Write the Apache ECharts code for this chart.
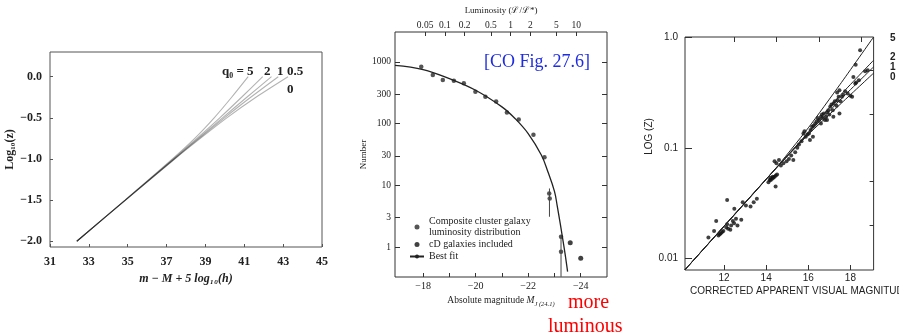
<!DOCTYPE html>
<html><head><meta charset="utf-8">
<script src="https://cdn.jsdelivr.net/npm/echarts@6/dist/echarts.min.js"></script>
<style>html,body{margin:0;padding:0;background:#fff}#c{width:899px;height:335px}</style>
</head><body><div id="c"></div>
<script>
// ===== Panel A: log10(z) vs m - M + 5 log10(h) =====
const aXTicks = [31, 33, 35, 37, 39, 41, 43, 45];
const aYTicks = [-2.0, -1.5, -1.0, -0.5, 0.0];
const aLogZ  = [-2.0, -1.5, -1.0, -0.75, -0.5, -0.25, 0.0];
const aQ5    = [32.38, 34.86, 37.30, 38.45, 39.45, 40.35, 41.2];
const aQ2    = [32.38, 34.87, 37.35, 38.56, 39.74, 40.86, 41.95];
const aQ1    = [32.38, 34.88, 37.38, 38.63, 39.88, 41.13, 42.4];
const aQ05   = [32.38, 34.88, 37.40, 38.68, 39.98, 41.33, 42.75];
const aQ0    = [32.38, 34.89, 37.42, 38.74, 40.10, 41.60, 43.25];

// ===== Panel B: cluster galaxy luminosity function =====
const bXTicks = [-18, -19, -20, -21, -22, -23, -24];
const bXLabels = [-18, -20, -22, -24];
const bYTicks = [1, 3, 10, 30, 100, 300, 1000];
const bLumLabels = ['0.05', '0.1', '0.2', '0.5', '1', '2', '5', '10'];
const bLumValues = [0.05, 0.1, 0.2, 0.5, 1, 2, 5, 10];
const bMStar = -21.33;
const bCompM = [-17.93, -18.37, -18.75, -19.17, -19.55, -19.99, -20.37, -20.78, -21.19, -21.64, -22.2, -22.62, -22.8, -22.82, -23.25, -23.25];
const bCompN = [840, 615, 510, 497, 452, 330, 274, 228, 151, 117, 66, 28.5, 7.4, 6.1, 1.47, 0.84];
const bCdM = [-23.6, -24.0];
const bCdN = [1.17, 0.66];
const bErrM = [-22.81, -23.25];
const bErrLo = [3.1, 0.33];
const bErrHi = [8.9, 1.47];
const bFitM = [-16.93, -18, -19, -20, -21, -21.5, -22, -22.5, -22.75, -23, -23.1, -23.25, -23.4, -23.5];
const bFitN = [880, 753, 537, 348, 187, 121, 69, 31, 16.6, 8, 4.8, 2.0, 0.8, 0.4];

// ===== Panel C: Hubble diagram, log z vs corrected apparent magnitude =====
const cXLabels = [12, 14, 16, 18];
const cTopTicks = [12.5, 14.5, 16.5, 18.5];
const cYMajor = [0.01, 0.1, 1];
const cYMinor = [0.02, 0.05, 0.2, 0.5];
const cLineM = [10.15, 14.3, 16, 17.5, 19.1];
const cLogQ5 = [-2.1, -1.22, -0.82, -0.43, 0.0];
const cLogQ2 = [-2.1, -1.22, -0.86, -0.53, -0.21];
const cLogQ1 = [-2.1, -1.22, -0.87, -0.57, -0.27];
const cLogQ0 = [-2.1, -1.22, -0.88, -0.61, -0.326];
const cPtM = [11.26,11.53,11.63,11.74,11.80,11.85,11.91,11.97,12.11,12.15,12.20,12.30,12.34,12.42,12.48,12.57,12.64,12.82,12.15,12.49,12.89,13.04,13.26,13.41,13.56,
  14.11,14.17,14.22,14.28,14.34,14.40,14.46,14.52,14.20,14.31,14.45,14.40,14.49,14.61,14.70,14.82,14.97,15.08,15.19,15.29,15.38,15.48,15.56,15.68,15.77,15.82,15.88,15.96,16.03,16.11,16.18,16.25,16.33,16.40,16.45,16.52,16.60,16.65,16.70,16.74,16.79,16.85,16.89,16.95,17.00,17.04,17.10,17.16,17.20,17.26,17.34,17.38,17.44,17.48,17.53,17.60,17.66,17.75,17.87,18.00,18.08,18.14,18.23,18.27,18.40,18.25,18.70,18.82,18.46,17.37,17.48,16.89,16.22,16.08,16.60,17.19];
const cPtLogZ = [-1.81,-1.75,-1.66,-1.79,-1.78,-1.77,-1.76,-1.75,-1.72,-1.69,-1.73,-1.74,-1.70,-1.66,-1.68,-1.64,-1.70,-1.65,-1.47,-1.55,-1.49,-1.52,-1.53,-1.49,-1.46,
  -1.31,-1.29,-1.29,-1.28,-1.27,-1.26,-1.25,-1.24,-1.27,-1.26,-1.35,-1.12,-1.14,-1.11,-1.16,-1.14,-1.12,-1.10,-1.07,-1.11,-1.04,-1.00,-0.97,-0.94,-0.87,-0.85,-0.90,-0.88,-0.87,-0.84,-0.81,-0.80,-0.78,-0.76,-0.73,-0.75,-0.72,-0.70,-0.73,-0.69,-0.75,-0.72,-0.68,-0.66,-0.70,-0.63,-0.61,-0.66,-0.60,-0.58,-0.62,-0.57,-0.54,-0.69,-0.58,-0.54,-0.52,-0.49,-0.51,-0.53,-0.54,-0.36,-0.42,-0.41,-0.39,-0.25,-0.31,-0.30,-0.12,-0.50,-0.48,-0.75,-0.90,-0.93,-0.78,-0.72];

const serif = "'Liberation Serif','DejaVu Serif',serif";
const sans = "'Liberation Sans','DejaVu Sans',sans-serif";
const ink = '#222';
const minus = v => String(v).replace('-', '\u2212');
const zip = (xs, ys, f) => xs.map((x, i) => [x, f ? f(ys[i]) : ys[i]]);
const zipYX = (ys, xs) => ys.map((y, i) => [xs[i], y]);
const pow10 = v => Math.pow(10, v);
const bTopM = bLumValues.map(L => bMStar - 2.5 * Math.log10(L));

const chart = echarts.init(document.getElementById('c'));
const hidden = {show: false};
const baseAxis = {axisLine: {show: false, onZero: false}, splitLine: hidden};

const aLine = (name, xs) => ({
  type: 'line', name, xAxisIndex: 0, yAxisIndex: 0, data: zipYX(aLogZ, xs),
  symbol: 'none', smooth: 0.3, silent: true,
  lineStyle: {color: 'rgba(0,0,0,0.3)', width: 1.1}
});
const cLine = (name, ys) => ({
  type: 'line', name, xAxisIndex: 3, yAxisIndex: 3, data: zip(cLineM, ys, pow10),
  symbol: 'none', smooth: 0.2, silent: true,
  lineStyle: {color: '#222', width: 1}
});

const option = {
  animation: false,
  backgroundColor: '#fff',
  textStyle: {fontFamily: serif, color: ink},
  grid: [
    {left: 50, top: 52, width: 272, height: 195, show: true, borderColor: '#555', borderWidth: 1},
    {left: 395, top: 32, width: 212, height: 245, show: true, borderColor: '#333', borderWidth: 1},
    {left: 685, top: 37, width: 203, height: 233, show: true, borderColor: '#333', borderWidth: 1}
  ],
  legend: {
    data: [
      {name: 'Composite cluster galaxy\nluminosity distribution'},
      {name: 'cD galaxies included'},
      {name: 'Best fit'}
    ],
    orient: 'vertical', left: 404, top: 211, itemWidth: 14, itemHeight: 5, itemGap: 1,
    textStyle: {fontFamily: serif, fontSize: 10, color: ink, lineHeight: 11}
  },
  xAxis: [
    Object.assign({}, baseAxis, {gridIndex: 0, type: 'value', min: 31, max: 45,
      axisTick: {show: true, inside: true, length: 3, customValues: aXTicks, lineStyle: {color: '#555'}},
      axisLabel: {customValues: aXTicks, fontSize: 12, color: ink, margin: 9, fontFamily: serif, fontWeight: 'bold'},
      name: 'm \u2212 M + 5 log\u2081\u2080(h)', nameLocation: 'middle', nameGap: 23,
      nameTextStyle: {fontSize: 12, fontFamily: serif, fontStyle: 'italic', fontWeight: 'bold', color: ink}}),
    Object.assign({}, baseAxis, {gridIndex: 1, type: 'value', min: -25, max: -16.93, inverse: true,
      axisTick: {show: true, inside: true, length: 4, customValues: bXTicks, lineStyle: {color: '#333'}},
      axisLabel: {customValues: bXLabels, fontSize: 10, color: ink, margin: 4, formatter: minus},
      name: '{a|Absolute magnitude }{i|M}{s|J (24.1)}', nameLocation: 'middle', nameGap: 13,
      nameTextStyle: {color: ink, rich: {
        a: {fontSize: 9.5, fontFamily: serif, color: ink, lineHeight: 14},
        i: {fontSize: 9.5, fontFamily: serif, fontStyle: 'italic', color: ink, lineHeight: 14},
        s: {fontSize: 6.5, fontFamily: serif, fontStyle: 'italic', color: ink, lineHeight: 14, verticalAlign: 'bottom'}
      }}}),
    Object.assign({}, baseAxis, {gridIndex: 1, type: 'value', position: 'top', min: -25, max: -16.93, inverse: true,
      axisTick: {show: true, inside: true, length: 4, customValues: bTopM, lineStyle: {color: '#333'}},
      axisLabel: {customValues: bTopM, fontSize: 9.5, color: ink, margin: 2,
        formatter: v => { let k = 0; bTopM.forEach((m, i) => { if (Math.abs(m - v) < Math.abs(bTopM[k] - v)) k = i; }); return bLumLabels[k]; }},
      name: 'Luminosity (\u2112/\u2112*)', nameLocation: 'middle', nameGap: 12,
      nameTextStyle: {fontSize: 9, color: ink}}),
    Object.assign({}, baseAxis, {gridIndex: 2, type: 'value', min: 10.15, max: 19.1,
      axisTick: {show: true, inside: true, length: 5, customValues: cXLabels, lineStyle: {color: '#333'}},
      axisLabel: {customValues: cXLabels, fontSize: 10, color: ink, margin: 3, fontFamily: sans},
      name: 'CORRECTED APPARENT VISUAL MAGNITUDE', nameLocation: 'start', nameGap: -5,
      nameTextStyle: {fontSize: 10, color: ink, fontFamily: sans, align: 'left', verticalAlign: 'top', padding: [16, 0, 0, 0]}}),
    Object.assign({}, baseAxis, {gridIndex: 2, type: 'value', position: 'top', min: 10.15, max: 19.1,
      axisTick: {show: true, inside: true, length: 5, customValues: cTopTicks, lineStyle: {color: '#333'}},
      axisLabel: hidden})
  ],
  yAxis: [
    Object.assign({}, baseAxis, {gridIndex: 0, type: 'value', min: -2.07, max: 0.30,
      axisTick: {show: true, inside: true, length: 3, customValues: aYTicks, lineStyle: {color: '#555'}},
      axisLabel: {customValues: aYTicks, fontSize: 12, color: ink, margin: 8, fontWeight: 'bold', formatter: v => minus(v.toFixed(1))},
      name: 'Log\u2081\u2080(z)', nameLocation: 'middle', nameGap: 31,
      nameTextStyle: {fontSize: 12, color: ink, fontWeight: 'bold'}}),
    Object.assign({}, baseAxis, {gridIndex: 1, type: 'log', min: 0.327, max: 3060,
      axisTick: {show: true, inside: true, length: 5, customValues: bYTicks, lineStyle: {color: '#333'}},
      axisLabel: {customValues: bYTicks, fontSize: 9.5, color: ink, margin: 4, formatter: v => String(v)},
      name: 'Number', nameLocation: 'middle', nameGap: 23,
      nameTextStyle: {fontSize: 9, color: ink}}),
    Object.assign({}, baseAxis, {gridIndex: 1, type: 'log', position: 'right', min: 0.327, max: 3060,
      axisTick: {show: true, inside: true, length: 5, customValues: bYTicks, lineStyle: {color: '#333'}},
      axisLabel: hidden}),
    Object.assign({}, baseAxis, {gridIndex: 2, type: 'log', min: 0.0079, max: 1.0,
      axisTick: {show: true, inside: true, length: 7, customValues: cYMajor, lineStyle: {color: '#333'}},
      axisLabel: {customValues: cYMajor, fontSize: 10, color: ink, margin: 7, fontFamily: sans,
        formatter: v => v >= 1 ? '1.0' : (v >= 0.1 ? '0.1' : '0.01')},
      name: 'LOG (Z)', nameLocation: 'middle', nameGap: 30,
      nameTextStyle: {fontSize: 10, color: ink, fontFamily: sans, padding: [0, 0, 0, 34]}}),
    Object.assign({}, baseAxis, {gridIndex: 2, type: 'log', min: 0.0079, max: 1.0,
      axisTick: {show: true, inside: true, length: 4, customValues: cYMinor, lineStyle: {color: '#333'}},
      axisLabel: hidden})
  ],
  series: [
    aLine('q0=5', aQ5), aLine('q0=2', aQ2), aLine('q0=1', aQ1), aLine('q0=0.5', aQ05), aLine('q0=0', aQ0),
    {type: 'line', name: 'Best fit', xAxisIndex: 1, yAxisIndex: 1, data: zip(bFitM, bFitN),
      symbol: 'none', smooth: 0.4, lineStyle: {color: '#222', width: 1.3}, itemStyle: {color: '#222'}},
    ...bErrM.map((m, i) => ({type: 'line', name: 'err' + i, xAxisIndex: 1, yAxisIndex: 1,
      data: [[m, bErrLo[i]], [m, bErrHi[i]]], symbol: 'none', silent: true,
      lineStyle: {color: '#444', width: 1}})),
    {type: 'scatter', name: 'Composite cluster galaxy\nluminosity distribution', xAxisIndex: 1, yAxisIndex: 1,
      data: zip(bCompM, bCompN), symbolSize: 4.5, itemStyle: {color: '#2a2a2a'}},
    {type: 'scatter', name: 'cD galaxies included', xAxisIndex: 1, yAxisIndex: 1,
      data: zip(bCdM, bCdN), symbolSize: 5, itemStyle: {color: '#111'}},
    cLine('5', cLogQ5), cLine('2', cLogQ2), cLine('1', cLogQ1), cLine('0', cLogQ0),
    {type: 'scatter', name: 'galaxies', xAxisIndex: 3, yAxisIndex: 3,
      data: zip(cPtM, cPtLogZ, pow10), symbolSize: 4, itemStyle: {color: '#111'}}
  ],
  graphic: [
    {type: 'text', left: 222, top: 65, style: {text: 'q\u2080 = 5', font: "bold 13px 'Liberation Serif'", fill: ink}},
    {type: 'text', left: 264, top: 65, style: {text: '2', font: "bold 13px 'Liberation Serif'", fill: ink}},
    {type: 'text', left: 277, top: 65, style: {text: '1', font: "bold 13px 'Liberation Serif'", fill: ink}},
    {type: 'text', left: 287, top: 65, style: {text: '0.5', font: "bold 13px 'Liberation Serif'", fill: ink}},
    {type: 'text', left: 287, top: 83, style: {text: '0', font: "bold 13px 'Liberation Serif'", fill: ink}},
    {type: 'text', left: 484, top: 53, style: {text: '[CO Fig. 27.6]', font: "18px 'Liberation Serif'", fill: '#1f2de0'}},
    {type: 'text', left: 568, top: 293, style: {text: 'more', font: "20px 'Liberation Serif'", fill: '#ff0000'}},
    {type: 'text', left: 548, top: 317, style: {text: 'luminous', font: "20px 'Liberation Serif'", fill: '#ff0000'}},
    {type: 'text', left: 890, top: 33, style: {text: '5', font: "bold 10px 'Liberation Sans'", fill: ink}},
    {type: 'text', left: 890, top: 52, style: {text: '2', font: "bold 10px 'Liberation Sans'", fill: ink}},
    {type: 'text', left: 890, top: 62, style: {text: '1', font: "bold 10px 'Liberation Sans'", fill: ink}},
    {type: 'text', left: 890, top: 72, style: {text: '0', font: "bold 10px 'Liberation Sans'", fill: ink}}
  ]
};
chart.setOption(option);
</script></body></html>
